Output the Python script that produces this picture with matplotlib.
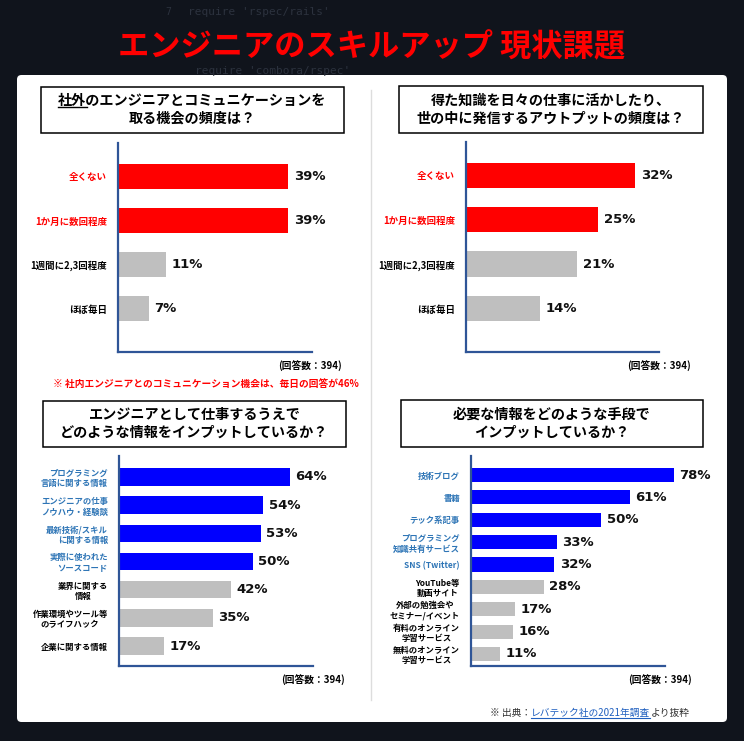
import matplotlib
matplotlib.use('Agg')
import matplotlib.pyplot as plt
from matplotlib.patches import FancyBboxPatch, Rectangle
from matplotlib.lines import Line2D

plt.rcParams['font.family'] = ['Noto Sans CJK JP', 'DejaVu Sans']

# ---------------- data ----------------
main_title = "エンジニアのスキルアップ 現状課題"

q1_title = ["社外のエンジニアとコミュニケーションを", "取る機会の頻度は？"]
q1_labels = ["全くない", "1か月に数回程度", "1週間に2,3回程度", "ほぼ毎日"]
q1_values = [39, 39, 11, 7]

q2_title = ["得た知識を日々の仕事に活かしたり、", "世の中に発信するアウトプットの頻度は？"]
q2_labels = ["全くない", "1か月に数回程度", "1週間に2,3回程度", "ほぼ毎日"]
q2_values = [32, 25, 21, 14]

q3_title = ["エンジニアとして仕事するうえで", "どのような情報をインプットしているか？"]
q3_labels = ["プログラミング\n言語に関する情報", "エンジニアの仕事\nノウハウ・経験談",
             "最新技術/スキル\nに関する情報", "実際に使われた\nソースコード",
             "業界に関する\n情報", "作業環境やツール等\nのライフハック", "企業に関する情報"]
q3_values = [64, 54, 53, 50, 42, 35, 17]

q4_title = ["必要な情報をどのような手段で", "インプットしているか？"]
q4_labels = ["技術ブログ", "書籍", "テック系記事", "プログラミング\n知識共有サービス",
             "SNS (Twitter)", "YouTube等\n動画サイト", "外部の勉強会や\nセミナー/イベント",
             "有料のオンライン\n学習サービス", "無料のオンライン\n学習サービス"]
q4_values = [78, 61, 50, 33, 32, 28, 17, 16, 11]

respondents = "(回答数：394)"
note_q1 = "※ 社内エンジニアとのコミュニケーション機会は、毎日の回答が46%"
source_parts = ["※ 出典：", "レバテック社の2021年調査", "より抜粋"]

# ---------------- style ----------------
RED = '#ff0000'
BLUE = '#0000ff'
GRAY = '#bfbfbf'
LBLUE = '#2e75b6'
AXC = '#2f5597'

W, H = 744, 741
fig = plt.figure(figsize=(W / 100, H / 100), dpi=100, facecolor='#0b0e14')


def fx(x):
    return x / W


def fy(y):
    return 1 - y / H


def rect(x0, y0, x1, y1):
    return [x0 / W, 1 - y1 / H, (x1 - x0) / W, (y1 - y0) / H]


# background decoration
fig.patches.append(Rectangle((0, 0), 1, 1, transform=fig.transFigure,
                             facecolor='#10141c', edgecolor='none', zorder=-10))
fig.text(fx(165), fy(12), "7", color='#2c323e', fontsize=7, family='DejaVu Sans Mono', va='center')
fig.text(fx(188), fy(12), "require 'rspec/rails'", color='#2c323e', fontsize=8,
         family='DejaVu Sans Mono', va='center')
fig.text(fx(195), fy(71), "require 'combora/rspec'", color='#2c323e', fontsize=8,
         family='DejaVu Sans Mono', va='center')

# white panel
fig.patches.append(FancyBboxPatch((fx(17), fy(722)), fx(727) - fx(17), fy(75) - fy(722),
                                  boxstyle="round,pad=0,rounding_size=0.006",
                                  transform=fig.transFigure, facecolor='white',
                                  edgecolor='none', zorder=-5))

# main title
fig.text(fx(372), fy(47), main_title, color=RED, fontsize=22.5, fontweight='bold',
         ha='center', va='center')

# separator
fig.add_artist(Line2D([fx(371), fx(371)], [fy(90), fy(700)], color='#dddddd', lw=1,
                      transform=fig.transFigure))

renderer = fig.canvas.get_renderer()


def title_box(x0, y0, x1, y1, lines, underline_first=0):
    fig.patches.append(Rectangle((fx(x0), fy(y1)), fx(x1) - fx(x0), fy(y0) - fy(y1),
                                 transform=fig.transFigure, facecolor='white',
                                 edgecolor='black', lw=1.1, zorder=1))
    cx = (x0 + x1) / 2
    cy = (y0 + y1) / 2
    ys = [cy - 9, cy + 9]
    for i, (ln, yy) in enumerate(zip(lines, ys)):
        t = fig.text(fx(cx), fy(yy), ln, fontsize=10.2, fontweight='bold', ha='center',
                     va='center', zorder=2)
        if i == 0 and underline_first:
            bb = t.get_window_extent(renderer)
            tmp = fig.text(0, 0, ln[:underline_first], fontsize=10.2, fontweight='bold')
            wb = tmp.get_window_extent(renderer)
            tmp.remove()
            uy = bb.y0 + 1
            fig.add_artist(Line2D([bb.x0 / W, (bb.x0 + wb.width) / W], [uy / H, uy / H],
                                  color='black', lw=1, transform=fig.transFigure, zorder=3))


def panel(px, ylim, xmax, labels, values, n_hi, hi_color, hi_lab_color, bar_h,
          lab_fs, hi_align, gray_align):
    ax = fig.add_axes(rect(*px))
    ax.patch.set_alpha(0)
    ys = list(range(len(values)))
    colors = [hi_color] * n_hi + [GRAY] * (len(values) - n_hi)
    bars = ax.barh(ys, values, height=bar_h, color=colors, zorder=2)
    for b in bars:
        b.set_clip_on(False)
    ax.set_xlim(0, xmax)
    ax.set_ylim(*ylim)
    ax.set_xticks([])
    ax.set_yticks(ys)
    ax.set_yticklabels(labels, fontsize=lab_fs, fontweight='bold')
    ax.tick_params(axis='y', length=0, pad=8)
    for i, tl in enumerate(ax.get_yticklabels()):
        if i < n_hi:
            tl.set_color(hi_lab_color)
            tl.set_multialignment(hi_align)
        else:
            tl.set_color('black')
            tl.set_multialignment(gray_align)
    for s in ['top', 'right']:
        ax.spines[s].set_visible(False)
    for s in ['left', 'bottom']:
        ax.spines[s].set_color(AXC)
        ax.spines[s].set_linewidth(1.6)
    for yv, v in zip(ys, values):
        ax.annotate(f"{v}%", xy=(v, yv), xytext=(4, 0), textcoords='offset points',
                    va='center', ha='left', fontsize=9.5, fontweight='bold',
                    family='DejaVu Sans', color='#111111', annotation_clip=False)
    return ax


# panel 1
title_box(41, 87, 344, 133, q1_title, underline_first=2)
panel((118, 143, 312, 352), (3.98, -0.75), 44.5, q1_labels, q1_values, 2, RED, RED,
      0.57, 6.8, 'right', 'right')
fig.text(fx(342), fy(366), respondents, fontsize=7, fontweight='bold', ha='right', va='center')
fig.text(fx(53), fy(384), note_q1, fontsize=7, fontweight='bold', color=RED, ha='left', va='center')

# panel 2
title_box(399, 86, 703, 133, q2_title)
panel((466, 142, 659, 352), (3.98, -0.75), 36.5, q2_labels, q2_values, 2, RED, RED,
      0.57, 6.8, 'right', 'right')
fig.text(fx(691), fy(366), respondents, fontsize=7, fontweight='bold', ha='right', va='center')

# panel 3
title_box(43, 401, 346, 447, q3_title)
panel((119, 456, 313, 666), (6.71, -0.745), 72.6, q3_labels, q3_values, 4, BLUE, LBLUE,
      0.62, 6, 'right', 'center')
fig.text(fx(345), fy(680), respondents, fontsize=7, fontweight='bold', ha='right', va='center')

# panel 4
title_box(401, 400, 703, 447, q4_title)
panel((471, 456, 665, 666), (8.54, -0.85), 74.6, q4_labels, q4_values, 5, BLUE, LBLUE,
      0.63, 6, 'right', 'center')
fig.text(fx(692), fy(680), respondents, fontsize=7, fontweight='bold', ha='right', va='center')

# source line
x = 490
cols = ['#333333', '#1f5fbf', '#333333']
for part, c in zip(source_parts, cols):
    t = fig.text(fx(x), fy(713), part, fontsize=7, color=c, ha='left', va='center')
    bb = t.get_window_extent(renderer)
    if c == '#1f5fbf':
        uy = bb.y0 + 0.5
        fig.add_artist(Line2D([bb.x0 / W, bb.x1 / W], [uy / H, uy / H], color=c, lw=0.8,
                              transform=fig.transFigure))
    x += bb.width

fig.savefig('out.png', dpi=100, facecolor=fig.get_facecolor())
